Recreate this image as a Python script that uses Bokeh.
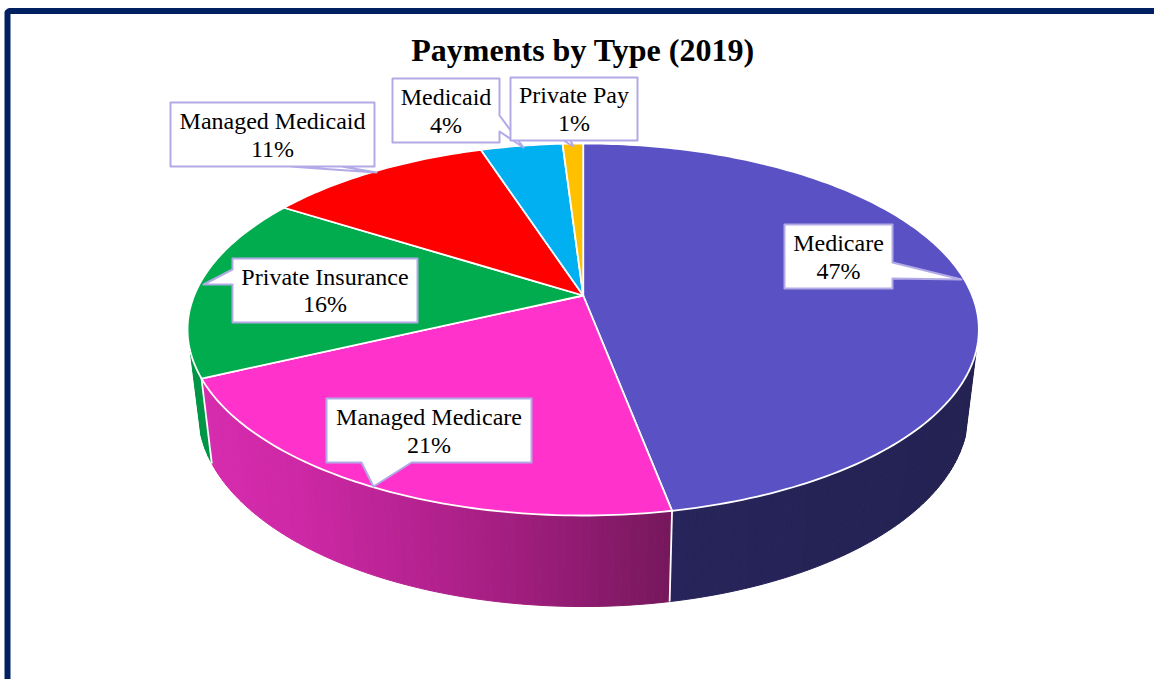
import math
from bokeh.plotting import figure
from bokeh.models import Range1d
from bokeh.core.properties import value
from bokeh.embed import file_html
from bokeh.resources import INLINE

title = "Payments by Type (2019)"
categories = ["Medicare", "Managed Medicare", "Private Insurance", "Managed Medicaid", "Medicaid", "Private Pay"]
shares = [47, 21, 16, 11, 4, 1]
colors = ["#5A52C4", "#FF33CC", "#00AC4E", "#FF0000", "#00B0F0", "#FFC000"]
navy = "#002060"
callout_border = "#B2AAE6"

# label box (left, top, right, bottom), pointer polygon vertices, baselines
boxes = [(784, 224, 892, 288), (326, 398, 531, 462), (232, 258, 417, 322),
         (170, 102, 374, 166), (392, 78, 499, 142), (510, 77, 637, 140)]
tails = [[(892, 262), (961, 279), (892, 278)],
         [(411, 462), (373, 486), (361, 462)],
         [(232, 269), (203, 284), (232, 284)],
         [(289, 166), (376, 172), (341, 166)],
         [(499, 115), (523, 147), (499, 131)],
         [(563, 140), (573, 146), (570, 140)]]
baselines = [(251, 279), (425, 453), (285, 312), (129, 157), (105, 133), (103, 131)]
LABEL_SHIFT = 9
TITLE_SHIFT = 10

# perspective disc geometry
CX, CY, K, A, B = 582.7, 295, -0.1828, 179.8, 389.0
WALL_FROM, WALL_TO = 107, 253


def top_pt(deg):
    t = math.radians(deg)
    u, v = math.sin(t), -math.cos(t)
    w = 1 + K * v
    return CX + B * u / w, CY + A * v / w


def bottom_pt(deg):
    x, y = top_pt(deg)
    return CX + (x - CX) * 0.973, y + 85 + (y - 378) * 0.044


def lerp_color(stops, x):
    if x <= stops[0][0]:
        return stops[0][1]
    for (x0, c0), (x1, c1) in zip(stops, stops[1:]):
        if x <= x1:
            f = (x - x0) / (x1 - x0)
            return tuple(round(a + (b - a) * f) for a, b in zip(c0, c1))
    return stops[-1][1]


wall_stops = [
    [(670, (38, 36, 90)), (980, (36, 34, 82))],
    [(205, (214, 44, 174)), (300, (205, 40, 165)), (500, (165, 30, 130)), (670, (118, 24, 92))],
    [(180, (0, 150, 70)), (215, (0, 150, 70))],
]

p = figure(width=1154, height=679, x_range=Range1d(0, 1154), y_range=Range1d(679, 0),
           toolbar_location=None, output_backend="svg", min_border=0,
           x_axis_type=None, y_axis_type=None, background_fill_color="white",
           outline_line_color=None, border_fill_color="white")
p.grid.visible = False

p.line([7, 7, 9, 1154], [679, 12, 10.5, 10.5], line_color=navy, line_width=6, line_join="round")

# side walls
edges = [0]
for s in shares:
    edges.append(edges[-1] + s * 3.6)
for i, stops in enumerate(wall_stops):
    a0, a1 = edges[i], edges[i + 1]
    a0 = max(a0, WALL_FROM)
    a1 = min(a1, WALL_TO)
    n = max(2, int((a1 - a0) / 1.0))
    xs, ys, cs = [], [], []
    for j in range(n):
        d0 = a0 + (a1 - a0) * j / n
        d1 = a0 + (a1 - a0) * (j + 1) / n
        q = [top_pt(d0), top_pt(d1), bottom_pt(d1), bottom_pt(d0)]
        xs.append([c[0] for c in q])
        ys.append([c[1] for c in q])
        mid = sum(c[0] for c in q) / 4
        cs.append("#%02X%02X%02X" % lerp_color(stops, mid))
    p.patches(xs, ys, fill_color=cs, line_color=cs, line_width=1)

# seams of the wall
for d in (edges[1], edges[2]):
    a, b = top_pt(d), bottom_pt(d)
    p.line([a[0], b[0]], [a[1], b[1]], line_color="white", line_width=1.8)

# top face
for i, c in enumerate(colors):
    a0, a1 = edges[i], edges[i + 1]
    n = max(4, int(a1 - a0))
    pts = [top_pt(a0 + (a1 - a0) * j / n) for j in range(n + 1)]
    xs = [CX] + [q[0] for q in pts]
    ys = [CY] + [q[1] for q in pts]
    p.patch(xs, ys, fill_color=c, line_color="white", line_width=1.8, line_join="round")

# callouts, in the drawing order of the reference
for i in [3, 0, 2, 1, 4, 5]:
    l, t, r, b = boxes[i]
    tail = tails[i]
    if i == 0 or i == 4:      # pointer leaves the right edge
        poly = [(l, t), (r, t), tail[0], tail[1], tail[2], (r, b), (l, b)]
    elif i == 2:              # pointer leaves the left edge
        poly = [(l, t), (r, t), (r, b), (l, b), tail[2], tail[1], tail[0]]
    else:                     # pointer leaves the bottom edge
        poly = [(l, t), (r, t), (r, b), tail[0], tail[1], tail[2], (l, b)]
    p.patch([q[0] for q in poly], [q[1] for q in poly], fill_color="white",
            line_color=callout_border, line_width=2, line_join="round")
    cx = (l + r) / 2
    p.text([cx, cx], [y - LABEL_SHIFT for y in baselines[i]], text=[categories[i], f"{shares[i]}%"],
           text_font=value("Liberation Serif"), text_font_size="24px", text_color="#000000",
           text_align="center", text_baseline="alphabetic")

p.text([582.5], [59 - TITLE_SHIFT], text=[title], text_font=value("Liberation Serif"), text_font_style="bold",
       text_font_size="32px", text_color="black", text_align="center", text_baseline="alphabetic")

open("out.html", "w").write(file_html(p, INLINE))
